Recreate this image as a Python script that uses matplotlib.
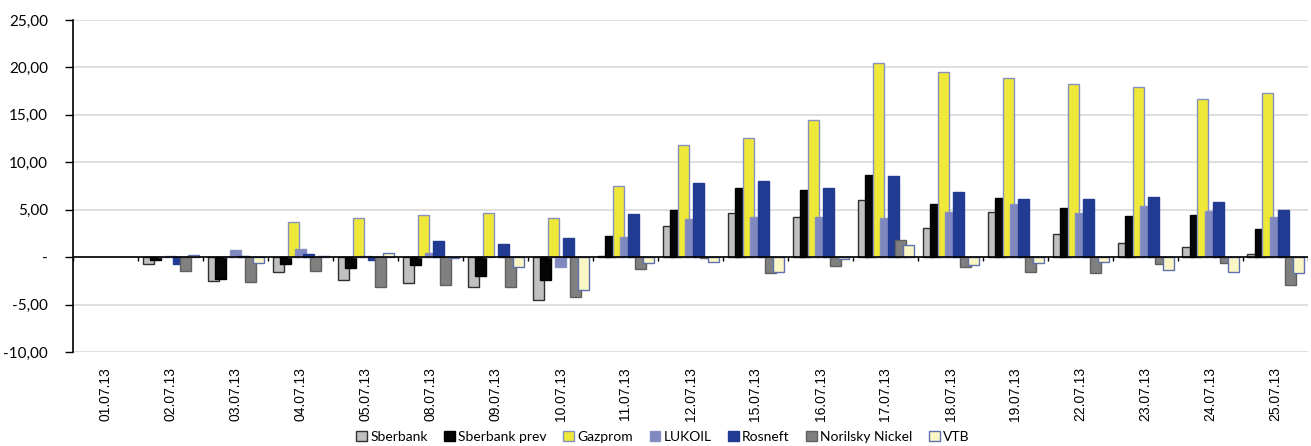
import matplotlib
matplotlib.use("Agg")
import matplotlib.pyplot as plt
from matplotlib.patches import Patch
import numpy as np

dates = ["01.07.13", "02.07.13", "03.07.13", "04.07.13", "05.07.13", "08.07.13",
         "09.07.13", "10.07.13", "11.07.13", "12.07.13", "15.07.13", "16.07.13",
         "17.07.13", "18.07.13", "19.07.13", "22.07.13", "23.07.13", "24.07.13",
         "25.07.13"]

sberbank = [0, -0.7, -2.55, -1.6, -2.4, -2.75, -3.2, -4.56, 0.1, 3.29, 4.7, 4.24,
            6.0, 3.11, 4.8, 2.47, 1.48, 1.06, 0.32]
sberbank_prev = [0, -0.35, -2.33, -0.7, -1.1, -0.88, -1.95, -2.4, 2.26, 4.95, 7.24, 7.07,
                 8.66, 5.65, 6.22, 5.23, 4.31, 4.49, 2.93]
gazprom = [0, 0.05, 0.05, 3.75, 4.13, 4.49, 4.66, 4.13, 7.53, 11.77, 12.61, 14.45,
           20.46, 19.5, 18.87, 18.23, 17.92, 16.68, 17.28]
lukoil = [0, 0.1, 0.78, 0.88, 0.1, 0.42, 0.0, -1.02, 2.16, 3.99, 4.28, 4.28,
          4.17, 4.73, 5.62, 4.7, 5.44, 4.84, 4.28]
rosneft = [0, -0.7, 0.14, 0.28, -0.25, 1.73, 1.41, 1.98, 4.52, 7.77, 8.02, 7.28,
           8.52, 6.82, 6.18, 6.08, 6.29, 5.83, 5.02]
norilsky = [0, -1.5, -2.58, -1.48, -3.1, -2.97, -3.18, -4.2, -1.2, -0.14, -1.7, -0.95,
            1.8, -1.06, -1.59, -1.7, -0.74, -0.64, -2.97]
vtb = [0, 0.25, -0.67, 0.15, 0.42, -0.1, -1.02, -3.43, -0.64, -0.53, -1.52, -0.2,
       1.24, -0.88, -0.64, -0.53, -1.31, -1.59, -1.66]

series_names = ["Sberbank", "Sberbank prev", "Gazprom", "LUKOIL", "Rosneft",
                "Norilsky Nickel", "VTB"]
series_values = [sberbank, sberbank_prev, gazprom, lukoil, rosneft, norilsky, vtb]
face_colors = ["#C0C0C0", "#050505", "#EEE838", "#8088C0", "#213A92", "#808080", "#FAF6C6"]
edge_colors = ["#303030", "#000000", "#8890C0", "#8890C0", "#213A92", "#606060", "#5F70B0"]

yticks = [-10, -5, 0, 5, 10, 15, 20, 25]
ytick_labels = ["-10,00", "-5,00", "-", "5,00", "10,00", "15,00", "20,00", "25,00"]

fig = plt.figure(figsize=(13.11, 4.46), dpi=100)
ax = fig.add_axes([73/1311, 1 - 352/446, (1308 - 73)/1311, (352 - 20)/446])

x = np.arange(len(dates))
step = 7.5 / 65.0
width = 11.0 / 65.0
for i, (name, vals) in enumerate(zip(series_names, series_values)):
    vals = np.asarray(vals, dtype=float)
    lw = np.where(vals == 0, 0.0, 1.0)
    ax.bar(x + (i - 3) * step, vals, width=width, color=face_colors[i],
           edgecolor=edge_colors[i], linewidth=lw, label=name, zorder=3)

ax.set_xlim(-0.5, len(dates) - 0.5)
ax.set_ylim(-10, 25)
ax.set_yticks(yticks)
ax.set_yticklabels(ytick_labels, fontfamily="Lato", fontsize=11)
ax.yaxis.grid(True, color="#D9D9D9", linewidth=1.2, zorder=0)
ax.set_axisbelow(True)

ax.set_xticks(x)
ax.set_xticklabels(dates, rotation=90, fontfamily="Liberation Sans", fontsize=10,
                   va="top", ha="center")
ax.tick_params(axis="x", length=0, pad=11)
ax.tick_params(axis="y", length=6, width=1, color="black", pad=12)

for s in ["top", "right", "bottom"]:
    ax.spines[s].set_visible(False)
ax.spines["left"].set_color("black")
ax.spines["left"].set_linewidth(1.2)

# zero axis line with category boundary ticks
ax.axhline(0, color="black", linewidth=1.2, zorder=4)
bounds = np.arange(len(dates) + 1) - 0.5
ax.vlines(bounds, -0.45, 0, color="black", linewidth=1.0, zorder=4)

handles = [Patch(facecolor=face_colors[i], edgecolor=edge_colors[i],
                 linewidth=1.0, label=series_names[i]) for i in range(len(series_names))]
fig.legend(handles=handles, loc="center", bbox_to_anchor=(663/1311, 1 - 437/446),
           ncol=7, frameon=False, prop={"family": "Lato", "size": 10},
           handlelength=0.75, handleheight=0.75, handletextpad=0.25, columnspacing=1.2,
           borderpad=0)

fig.savefig("out.png", dpi=100)
